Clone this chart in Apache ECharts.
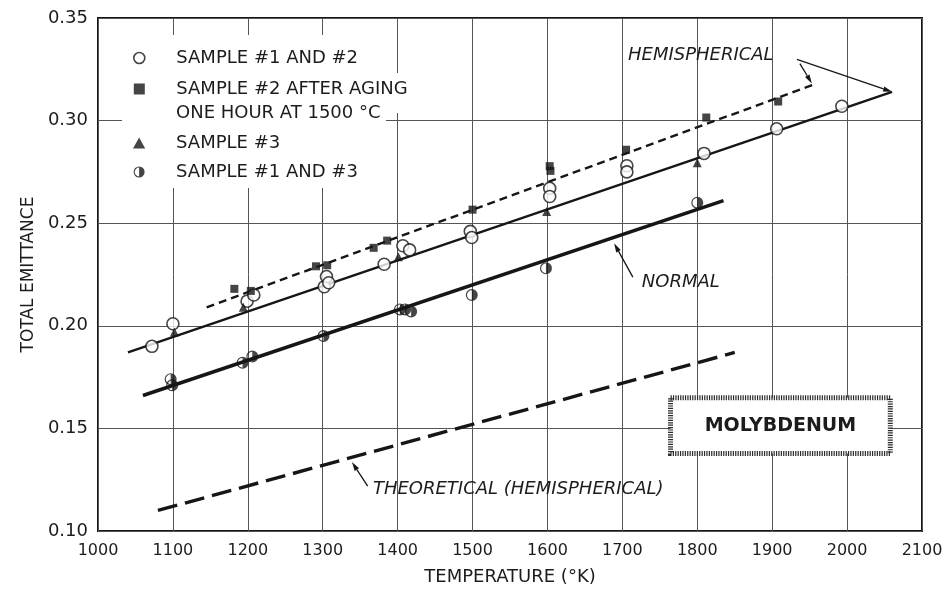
<!DOCTYPE html>
<html>
<head>
<meta charset="utf-8">
<script src="https://cdn.jsdelivr.net/npm/echarts@6/dist/echarts.min.js"></script>
<style>
  html, body { margin: 0; padding: 0; background: #fff; }
  #chart { width: 947px; height: 595px; }
</style>
</head>
<body>
<div id="chart"></div>
<script>
// Axis ticks
const tempTicks = [1000, 1100, 1200, 1300, 1400, 1500, 1600, 1700, 1800, 1900, 2000, 2100];
const emitTicks = [0.10, 0.15, 0.20, 0.25, 0.30, 0.35];

// Measured points: [temperature K, total emittance]
const sample1and2 = [
  [1072, 0.190], [1100, 0.201], [1199, 0.212], [1208, 0.215],
  [1302, 0.219], [1305, 0.224], [1308, 0.221], [1382, 0.230],
  [1407, 0.239], [1416, 0.237], [1497, 0.246], [1499, 0.243],
  [1603, 0.267], [1603, 0.263], [1706, 0.278], [1706, 0.275],
  [1809, 0.284], [1906, 0.296], [1993, 0.307]
];
const sample2Aged = [
  [1182, 0.218], [1204, 0.217], [1291, 0.229], [1306, 0.2295],
  [1368, 0.238], [1386, 0.2415], [1500, 0.2566], [1603, 0.2778],
  [1604, 0.2755], [1705, 0.2858], [1812, 0.3015], [1908, 0.3093]
];
const sample3 = [
  [1102, 0.197], [1194, 0.209], [1401, 0.2336], [1599, 0.2557], [1800, 0.2795]
];
const sample1and3 = [
  [1097, 0.174], [1099, 0.171], [1193, 0.182], [1206, 0.185],
  [1301, 0.195], [1403, 0.208], [1410, 0.208], [1418, 0.207],
  [1499, 0.215], [1598, 0.228], [1800, 0.260]
];

// Fitted lines: [start, end]
const hemisphericalFit = [[1040, 0.187], [2060, 0.314]];
const agedHemisphericalFit = [[1145, 0.209], [1955, 0.3175]];
const normalFit = [[1060, 0.166], [1835, 0.261]];
const theoreticalFit = [[1080, 0.110], [1850, 0.187]];

const INK = '#161616';
const FONT = '"DejaVu Sans", "Liberation Sans", sans-serif';

const SQUARE = 'path://M0,0L10,0L10,10L0,10Z';
const TRIANGLE = 'path://M5,0L10,9L0,9Z';
const HALF_DISC = 'path://M0,-10A10,10,0,1,1,0,10A10,10,0,1,1,0,-10Z' +
  'M0,-8A8,8,0,1,0,0,8A8,8,0,1,0,0,-8Z' +
  'M0,-8A8,8,0,0,1,0,8Z';

const NAME_12 = 'SAMPLE #1 AND #2';
const NAME_2A = 'SAMPLE #2 AFTER AGING';
const NAME_3 = 'SAMPLE #3';
const NAME_13 = 'SAMPLE #1 AND #3';

const chart = echarts.init(document.getElementById('chart'), null, { renderer: 'canvas' });

function fitLine(data, width, type) {
  return {
    type: 'line', data: data, symbol: 'none', silent: true, z: 2,
    lineStyle: { color: INK, width: width, type: type, cap: 'butt' },
    emphasis: { disabled: true }
  };
}
function scatter(name, data, symbol, size, itemStyle) {
  return {
    type: 'scatter', name: name, data: data, symbol: symbol, symbolSize: size,
    itemStyle: itemStyle, z: 3, silent: true, emphasis: { disabled: true }
  };
}

const legendText = { fontFamily: FONT, fontSize: 18, color: '#1c1c1c', lineHeight: 20 };
const legendCommon = {
  orient: 'vertical', left: 133, padding: 0, itemWidth: 64, itemHeight: 11,
  selectedMode: false, symbolKeepAspect: true, textStyle: legendText, z: 6
};

const option = {
  animation: false,
  backgroundColor: '#fff',
  grid: { left: 98, right: 25, top: 18, bottom: 64, show: true, borderColor: INK, borderWidth: 2, backgroundColor: '#fff' },
  xAxis: {
    type: 'value',
    min: tempTicks[0], max: tempTicks[tempTicks.length - 1], interval: tempTicks[1] - tempTicks[0],
    name: 'TEMPERATURE (°K)', nameLocation: 'middle', nameGap: 37,
    nameTextStyle: { fontFamily: FONT, fontSize: 18, color: '#1c1c1c' },
    axisLine: { show: false }, axisTick: { show: false },
    axisLabel: { fontFamily: FONT, fontSize: 16, color: '#1c1c1c', margin: 12,
      formatter: v => String(v) },
    splitLine: { show: true, lineStyle: { color: '#555', width: 1 } }
  },
  yAxis: {
    type: 'value',
    min: emitTicks[0], max: emitTicks[emitTicks.length - 1], interval: 0.05,
    name: 'TOTAL EMITTANCE', nameLocation: 'middle', nameGap: 61, nameRotate: 90,
    nameTextStyle: { fontFamily: FONT, fontSize: 17, color: '#1c1c1c' },
    axisLine: { show: false }, axisTick: { show: false },
    axisLabel: { fontFamily: FONT, fontSize: 18, color: '#1c1c1c', margin: 10,
      formatter: v => v.toFixed(2) },
    splitLine: { show: true, lineStyle: { color: '#555', width: 1 } }
  },
  legend: [
    Object.assign({}, legendCommon, {
      top: 48, itemGap: 11,
      data: [
        { name: NAME_12, icon: 'circle', itemStyle: { color: '#fff', borderColor: INK, borderWidth: 1.6 } },
        { name: NAME_2A, icon: SQUARE, itemStyle: { color: INK, borderWidth: 0 } }
      ]
    }),
    Object.assign({}, legendCommon, {
      top: 133, itemGap: 9,
      data: [
        { name: NAME_3, icon: TRIANGLE, itemStyle: { color: INK, borderWidth: 0 } },
        { name: NAME_13, icon: HALF_DISC, itemStyle: { color: INK, borderWidth: 0 } }
      ]
    })
  ],
  series: [
    fitLine(hemisphericalFit, 2.4, 'solid'),
    fitLine(agedHemisphericalFit, 2.4, [8, 5]),
    fitLine(normalFit, 3.6, 'solid'),
    fitLine(theoreticalFit, 3.4, [20, 8]),
    scatter(NAME_12, sample1and2, 'circle', 12, { color: '#fff', borderColor: INK, borderWidth: 1.6 }),
    scatter(NAME_2A, sample2Aged, 'rect', 8, { color: INK }),
    scatter(NAME_3, sample3, 'triangle', 9, { color: INK }),
    scatter(NAME_13, sample1and3, HALF_DISC, 12, { color: INK })
  ]
};
chart.setOption(option);

// Annotations placed from data coordinates
const px = p => chart.convertToPixel({ gridIndex: 0 }, p);

function arrow(fromD, toD) {
  const a = px(fromD), b = px(toD);
  const dx = b[0] - a[0], dy = b[1] - a[1];
  const len = Math.hypot(dx, dy), ux = dx / len, uy = dy / len;
  const head = 9, hw = 2.6;
  const base = [b[0] - ux * head, b[1] - uy * head];
  return [
    { type: 'line', silent: true, z: 5,
      shape: { x1: a[0], y1: a[1], x2: base[0], y2: base[1] },
      style: { stroke: INK, lineWidth: 1.3 } },
    { type: 'polygon', silent: true, z: 5,
      shape: { points: [b, [base[0] - uy * hw, base[1] + ux * hw], [base[0] + uy * hw, base[1] - ux * hw]] },
      style: { fill: INK } }
  ];
}
function note(text, atD, size) {
  const p = px(atD);
  return { type: 'text', silent: true, z: 5, x: p[0], y: p[1],
    style: { text: text, fill: '#1c1c1c', font: 'italic ' + size + 'px ' + FONT, align: 'left', verticalAlign: 'middle' } };
}

const boxA = px([1761, 0.1662]), boxB = px([2061, 0.1365]);

const graphics = [
  // white backing behind the legend block
  { type: 'rect', silent: true, z: 1, shape: { x: 122, y: 35, width: 264, height: 153 }, style: { fill: '#fff' } },
  { type: 'rect', silent: true, z: 1, shape: { x: 386, y: 73, width: 46, height: 40 }, style: { fill: '#fff' } },
  { type: 'text', silent: true, z: 6, x: 176, y: 113,
    style: { text: 'ONE HOUR AT 1500 °C', fill: '#1c1c1c', fontFamily: FONT, fontSize: 18, align: 'left', verticalAlign: 'middle' } },

  note('HEMISPHERICAL', [1707.5, 0.3317], 18),
  ...arrow([1933, 0.3298], hemisphericalFit[1]),
  ...arrow([1937, 0.3278], [1953, 0.3181]),

  note('NORMAL', [1726, 0.2212], 18),
  ...arrow([1714, 0.2237], [1689, 0.2402]),

  note('THEORETICAL (HEMISPHERICAL)', [1367, 0.1205], 18),
  ...arrow([1360, 0.1219], [1339, 0.1336]),

  // material label box
  { type: 'rect', silent: true, z: 5,
    shape: { x: boxA[0] + 2.5, y: boxA[1] + 2.5, width: boxB[0] - boxA[0] - 5, height: boxB[1] - boxA[1] - 5 },
    style: { fill: '#fff', stroke: '#2a2a2a', lineWidth: 5, lineDash: [1.2, 1.2] } },
  { type: 'text', silent: true, z: 6, x: (boxA[0] + boxB[0]) / 2, y: (boxA[1] + boxB[1]) / 2,
    style: { text: 'MOLYBDENUM', fill: '#1c1c1c', fontFamily: FONT, fontSize: 19, fontWeight: 'bold', align: 'center', verticalAlign: 'middle' } }
];
chart.setOption({ graphic: graphics });
</script>
</body>
</html>
